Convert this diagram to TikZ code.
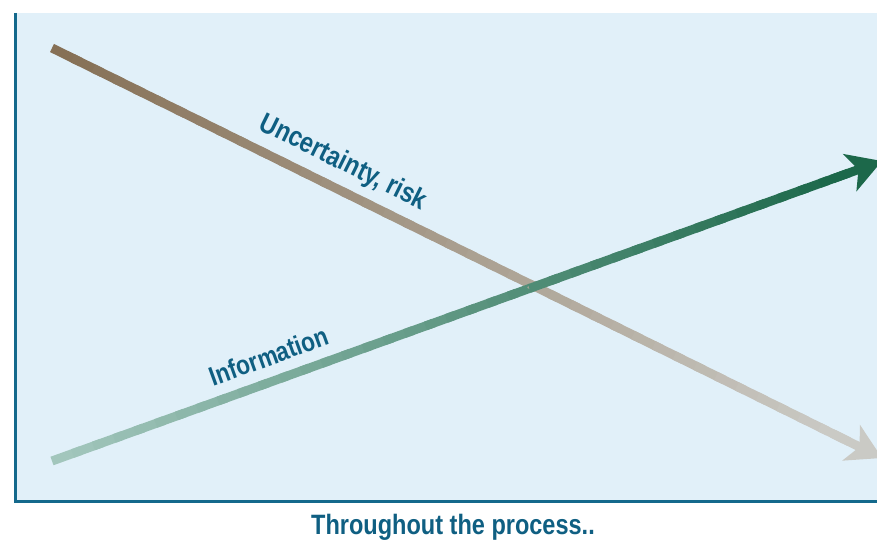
\documentclass[tikz,border=0pt]{standalone}
\usepackage{fontspec}
\setmainfont{Liberation Sans}[FakeStretch=0.84]
\usetikzlibrary{arrows.meta,calc}
\definecolor{bgblue}{RGB}{225,240,249}
\definecolor{axisblue}{RGB}{20,105,140}
\definecolor{textblue}{RGB}{15,95,130}
\definecolor{riskstart}{RGB}{134,112,86}
\definecolor{riskend}{RGB}{202,202,197}
\definecolor{infostart}{RGB}{162,198,188}
\definecolor{infoend}{RGB}{28,104,74}

\begin{document}
\begin{tikzpicture}[x=1pt,y=1pt,
    axis line/.style={draw=axisblue,line width=3pt},
    trend/.style={line width=9pt},
    head/.style={-{Stealth[length=34pt,width=39pt,inset=9pt]}},
    label text/.style={text=textblue,inner sep=0pt,font=\bfseries\fontsize{27}{27}\selectfont}]
    \useasboundingbox (0,0) rectangle (877,543);
    \clip (0,0) rectangle (877,543);

    % frame
    \fill[bgblue] (15,42) rectangle (877,530);
    \coordinate (top) at (15,530);
    \coordinate (origin) at (15,42);
    \coordinate (right) at (877,42);
    \draw[axis line] (top) -- (origin) -- (right);

    % end points of the two trends
    \coordinate (u1) at (52,495);
    \coordinate (u2) at (882,85);
    \coordinate (i1) at (52,82);
    \coordinate (i2) at (882,382);

    \foreach \k in {0,...,37} {
        \pgfmathtruncatemacro\p{100*\k/37}
        \colorlet{riskcol}{riskend!\p!riskstart}
        \colorlet{infocol}{infoend!\p!infostart}
        \draw[trend,riskcol] ($(u1)!\k/40!(u2)$) -- ($(u1)!{(\k+1.4)/40}!(u2)$);
        \draw[trend,infocol] ($(i1)!\k/40!(i2)$) -- ($(i1)!{(\k+1.4)/40}!(i2)$);
    }
    \draw[trend,head,riskend] ($(u1)!0.94!(u2)$) -- (u2);
    \draw[trend,head,infoend] ($(i1)!0.94!(i2)$) -- (i2);

    % labels
    \node[label text,font=\bfseries\fontsize{28}{28}\selectfont,rotate=-26.3] (unc) at (343,380) {Uncertainty, risk};
    \node[label text,rotate=19.9] (info) at (269,187) {Information};
    \node[label text,font=\bfseries\fontsize{28}{28}\selectfont] (xlab) at (453,16) {Throughout the process..};
\end{tikzpicture}
\end{document}
